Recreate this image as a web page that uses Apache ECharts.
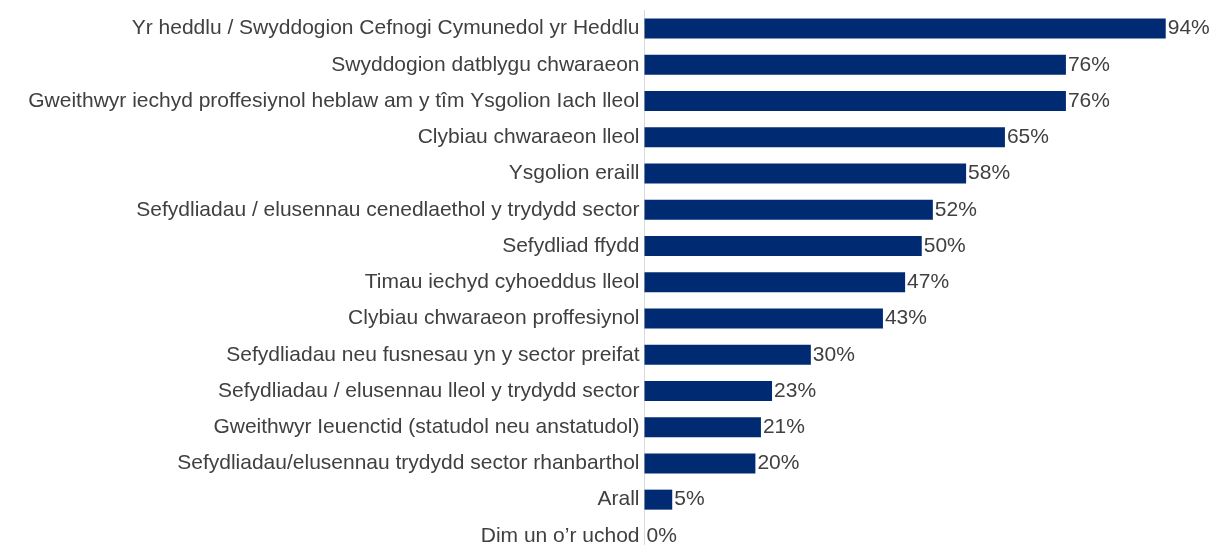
<!DOCTYPE html>
<html><head><meta charset="utf-8">
<script src="https://cdn.jsdelivr.net/npm/echarts@6/dist/echarts.min.js"></script>
<style>html,body{margin:0;padding:0;background:#fff}#c{width:1215px;height:545px}</style>
</head><body><div id="c"></div>
<script>
const categories = [
  "Yr heddlu / Swyddogion Cefnogi Cymunedol yr Heddlu",
  "Swyddogion datblygu chwaraeon",
  "Gweithwyr iechyd proffesiynol heblaw am y tîm Ysgolion Iach lleol",
  "Clybiau chwaraeon lleol",
  "Ysgolion eraill",
  "Sefydliadau / elusennau cenedlaethol y trydydd sector",
  "Sefydliad ffydd",
  "Timau iechyd cyhoeddus lleol",
  "Clybiau chwaraeon proffesiynol",
  "Sefydliadau neu fusnesau yn y sector preifat",
  "Sefydliadau / elusennau lleol y trydydd sector",
  "Gweithwyr Ieuenctid (statudol neu anstatudol)",
  "Sefydliadau/elusennau trydydd sector rhanbarthol",
  "Arall",
  "Dim un o’r uchod"
];
const values = [94, 76, 76, 65, 58, 52, 50, 47, 43, 30, 23, 21, 20, 5, 0];

const FONT = '"Liberation Sans", Arial, sans-serif';
const chart = echarts.init(document.getElementById('c'), null, {renderer: 'canvas'});
chart.setOption({
  animation: false,
  grid: {left: 644.5, right: 16, top: 10.5, height: 543.5, containLabel: false, outerBoundsMode: 'none'},
  xAxis: {type: 'value', min: 0, max: 100, show: false},
  yAxis: {
    type: 'category', data: categories, inverse: true,
    axisLine: {show: true, lineStyle: {color: '#d9d9d9', width: 1}},
    axisTick: {show: false},
    axisLabel: {color: '#404040', fontFamily: FONT, fontSize: 21, margin: 5}
  },
  series: [{
    type: 'bar', data: values, barWidth: 20,
    itemStyle: {color: '#002B73'},
    label: {show: true, position: 'right', distance: 2, formatter: '{c}%', color: '#404040',
      fontFamily: FONT, fontSize: 21}
  }]
});
</script></body></html>
